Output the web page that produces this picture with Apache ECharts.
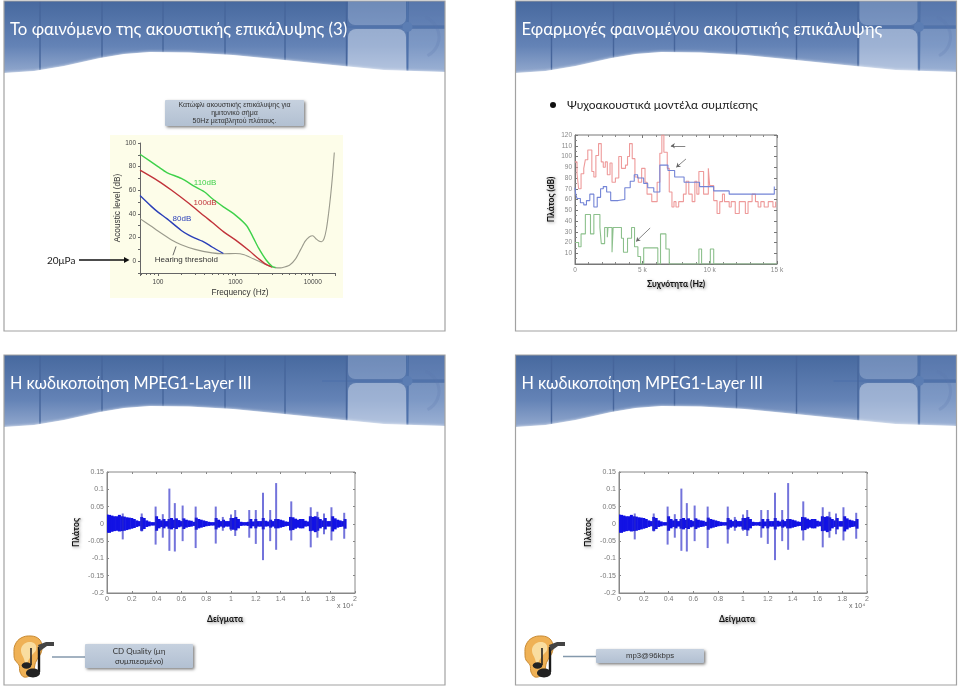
<!DOCTYPE html>
<html><head><meta charset="utf-8">
<style>html,body{margin:0;padding:0;background:#fff}#main{width:960px;height:687px;filter:blur(0.4px)}</style>
<script src="https://cdn.jsdelivr.net/npm/echarts@6/dist/echarts.min.js"></script>
</head><body><div id="main"></div>
<script>
// ---------- chart 1: masking thresholds (Hz, dB) ----------
const thresholdHz=[58.5,80,100,150,200,300,500,700,1000,1300,1700,2300,3000,3500,4000,5000,6000,7000,8000,9000,10000,11000,12000,13000,14000,15000,16000,17000,18000,19000];
const thresholdDb=[36,30,25.5,18,14,10,7,6.3,6.5,5.5,2,-2,-5,-5.7,-5.5,-3.5,2,10,17,20.5,21.5,19,17,16.5,19,27,40,55,72,92];
const mask80Hz=[58.5,80,100,130,200,250,300,400,500,700];
const mask80Db=[55.5,47,41.5,36,26,22,19.5,16,12,6.5];
const mask100Hz=[58.5,100,150,250,400,500,700,1000,1500,2000,2400,3000];
const mask100Db=[77,68,60,49,38,33,25,18,9,2,-2,-5];
const mask110Hz=[58.5,100,130,200,300,400,500,700,1000,1400,1700,2000,2500,3000,3300];
const mask110Db=[90.5,80,75,70,63,58.5,53,46,39,30,20,11,1,-4.5,-5.3];
const freqLabels=[100,1000,10000];

// ---------- chart 2: psychoacoustic model (kHz, dB, step lines) ----------
const redK=[0,.15,.27,.45,.65,.77,.95,1.25,1.4,1.55,1.75,1.95,2.1,2.25,2.4,2.6,2.75,3.0,3.25,3.45,3.75,3.9,4.05,4.25,4.45,4.7,4.95,5.2,5.35,5.7,6.1,6.3,6.45,6.6,6.85,7.0,7.2,7.35,7.5,7.7,8.05,8.25,8.45,8.7,8.9,9.05,9.2,9.55,9.9,10.0,10.3,10.55,10.75,10.95,11.1,11.45,11.6,11.9,12.2,12.65,12.85,13.15,13.4,13.6,13.8,14.05,14.35,14.7,14.9];
const redDb=[95,84,70,84,89,97,106,86,81,101,112,95,90,95,83,94,76,80,100,89,92,100,112,98,81,76,89,76,65,58,76,103,120,104,89,67,53,58,53,58,65,77,65,58,77,65,86,65,89,73,59,47,58,65,58,53,58,47,58,47,58,65,58,53,58,53,58,53,58];
const blueK=[0,.05,.15,.4,.65,.85,1.1,1.4,1.65,1.9,2.1,2.35,2.65,3.2,3.7,4.1,4.4,4.65,5.1,5.4,5.85,6.3,6.9,7.4,8.1,9.25,10.3,11.45,12.55,14.8];
const blueDb=[71,65,61,57,55,59,65,53,62,70,72,67,59,60,71,77,83,80,75,71,67,92,87,81,76,72,68,65,65,72];
const greenK=[0,.27,.45,.77,1.15,1.4,1.85,1.95,2.2,2.4,2.45,2.75,2.83,3.0,3.45,3.6,3.9,4.2,4.27,4.42,4.67,4.87,5.1,6.15,6.35,6.35,6.75,7.0,9.2,9.4,10.05,10.3,15];
const greenDb=[20,16,28,46,28,46,34,19,34,25,34,11,34,34,24,11,24,34,34,16,7,0,15,0,20,28,14,0,14,0,14,0,0];
const ampYLabels=[10,20,30,40,50,60,70,80,90,100,110,120];

// ---------- charts 3, 4: waveform envelope (x 1e4 samples, amplitude) ----------
const waveX=[0,.02,.04,.06,.08,.1,.12,.14,.16,.18,.2,.22,.24,.26,.28,.3,.32,.34,.36,.38,.4,.42,.44,.46,.48,.5,.52,.54,.56,.58,.6,.62,.64,.66,.68,.7,.72,.74,.76,.78,.8,.82,.84,.86,.88,.9,.92,.94,.96,.98,1,1.02,1.04,1.06,1.08,1.1,1.12,1.14,1.16,1.18,1.2,1.22,1.24,1.26,1.28,1.3,1.32,1.34,1.36,1.38,1.4,1.42,1.44,1.46,1.48,1.5,1.52,1.54,1.56,1.58,1.6,1.62,1.64,1.66,1.68,1.7,1.72,1.74,1.76,1.78,1.8,1.82,1.84,1.86,1.88,1.9,1.92];
const waveUp=[.027,.026,.024,.022,.022,.026,.022,.021,.019,.018,.017,.014,.01,.008,.02,.017,.01,.007,.005,.005,.022,.014,.01,.014,.008,.014,.017,.012,.016,.011,.008,.016,.012,.01,.009,.006,.018,.014,.012,.01,.008,.006,.005,.005,.017,.012,.008,.012,.008,.008,.017,.017,.02,.014,.006,.005,.005,.006,.014,.007,.014,.008,.008,.017,.009,.007,.012,.008,.014,.014,.012,.01,.007,.006,.02,.019,.015,.012,.014,.014,.009,.007,.022,.02,.022,.019,.014,.01,.017,.008,.008,.022,.016,.012,.01,.008,.014];
const waveLow=[-.026,-.026,-.023,-.021,-.02,-.022,-.021,-.02,-.018,-.016,-.014,-.012,-.009,-.007,-.02,-.015,-.009,-.007,-.005,-.005,-.02,-.013,-.009,-.013,-.008,-.014,-.016,-.012,-.015,-.01,-.008,-.015,-.011,-.009,-.008,-.006,-.017,-.013,-.011,-.009,-.007,-.006,-.005,-.005,-.016,-.011,-.008,-.011,-.008,-.008,-.016,-.017,-.019,-.013,-.006,-.005,-.005,-.006,-.013,-.007,-.013,-.008,-.008,-.016,-.008,-.007,-.011,-.008,-.013,-.013,-.011,-.009,-.007,-.006,-.019,-.018,-.014,-.011,-.013,-.013,-.008,-.007,-.021,-.02,-.024,-.02,-.013,-.009,-.016,-.008,-.008,-.022,-.016,-.011,-.009,-.008,-.014];
const spikeX=[.127,.28,.392,.45,.503,.547,.61,.715,.877,.934,1.0,1.034,1.147,1.2,1.258,1.316,1.364,1.486,1.643,1.697,1.75,1.81,1.913];
const spikeUp=[.03,.03,.05,.028,.102,.06,.053,.05,.05,.02,.027,.04,.04,.04,.09,.04,.118,.065,.048,.035,.03,.048,.032];
const spikeLow=[-.045,-.022,-.06,-.04,-.078,-.08,-.05,-.07,-.057,-.02,-.02,-.035,-.04,-.058,-.105,-.05,-.075,-.048,-.068,-.04,-.03,-.048,-.043];

// ---------- texts ----------
const slideTitles=['Το φαινόμενο της ακουστικής επικάλυψης (3)','Εφαρμογές φαινομένου ακουστικής επικάλυψης','Η κωδικοποίηση MPEG1-Layer III','Η κωδικοποίηση MPEG1-Layer III'];
const captionLines='Κατώφλι ακουστικής επικάλυψης για\nημιτονικό σήμα\n50Hz μεταβλητού πλάτους.';
const bulletText='Ψυχοακουστικά μοντέλα συμπίεσης';

const FONT='Lato, "Open Sans", "Noto Sans", sans-serif';
const ARIAL='"Liberation Sans", Arial, sans-serif';
const zip=(a,b)=>a.map((v,i)=>[v,b[i]]);
const G=echarts.graphic;

function slideBack(ox,oy,title,tSize){
  const out=[];
  out.push({type:'rect',shape:{x:ox,y:oy,width:441,height:82},style:{fill:new G.LinearGradient(0,0,0,1,[{offset:0,color:'#47699f'},{offset:.55,color:'#6483b6'},{offset:1,color:'#a3b6d6'}])}});
  [36,98,159,221,281].forEach(x=>out.push({type:'line',shape:{x1:ox+x,y1:oy,x2:ox+x,y2:oy+70},style:{stroke:'#46659b',lineWidth:1.4}}));
  out.push({type:'rect',shape:{x:ox+344,y:oy+28,width:58,height:50,r:8},style:{fill:'rgba(215,225,242,.5)'}});
  out.push({type:'rect',shape:{x:ox+344,y:oy,width:58,height:24,r:[0,0,7,7]},style:{fill:'rgba(175,195,226,.38)'}});
  out.push({type:'rect',shape:{x:ox+405,y:oy+28,width:36,height:50},style:{fill:'rgba(175,195,226,.35)'}});
  out.push({type:'rect',shape:{x:ox+405,y:oy,width:36,height:24},style:{fill:'rgba(130,155,205,.28)'}});
  out.push({type:'line',shape:{x1:ox+318,y1:oy+26,x2:ox+441,y2:oy+26},style:{stroke:'#4f72ab',lineWidth:1.6}});
  out.push({type:'line',shape:{x1:ox+403.5,y1:oy,x2:ox+403.5,y2:oy+72},style:{stroke:'#4f72ab',lineWidth:1.6}});
  out.push({type:'line',shape:{x1:ox+342.5,y1:oy,x2:ox+342.5,y2:oy+68},style:{stroke:'#46659b',lineWidth:1.4}});
  out.push({type:'circle',shape:{cx:ox+403.5,cy:oy+26,r:5},style:{fill:'#5b7db3'}});
  out.push({type:'arc',shape:{cx:ox+414,cy:oy+36,r:21,startAngle:-1.2,endAngle:1.1},style:{stroke:'rgba(90,120,175,.22)',lineWidth:3,fill:null}});
  out.push({type:'polygon',shape:{points:[[0,72],[30,70],[60,65],[96,57],[120,53],[146,51],[185,51.5],[229,54],[280,59],[329,64],[380,69],[441,71],[441,85],[0,85]].map(p=>[ox+p[0],oy+p[1]])},style:{fill:'#fff',shadowBlur:3,shadowColor:'rgba(255,255,255,.9)'}});
  out.push({type:'rect',shape:{x:ox,y:oy,width:441,height:330},style:{fill:null,stroke:'#a2a2a2',lineWidth:1.2}});
  out.push({type:'text',x:ox+6,y:oy+29,style:{text:title,fill:'#fff',font:tSize+'px '+FONT,textVerticalAlign:'middle'}});
  return out;
}
function ear(x,y){
  const pts=a=>a.map(p=>[x+p[0],y+p[1]]);
  return [
   {type:'polygon',shape:{points:pts([[3,18],[4,9],[10,2],[20,0],[28,3],[31,10],[30,17],[27,22],[24,28],[23,34],[20,39],[13,41],[9,36],[8,29],[4,24]]),smooth:.4},style:{fill:'#efb155',stroke:'#c88a33',lineWidth:1}},
   {type:'polygon',shape:{points:pts([[10,15],[12,9],[18,6],[24,8],[25,14],[21,19],[17,25],[15,29],[13,23]]),smooth:.4},style:{fill:'#f9dda0'}},
   {type:'line',shape:{x1:x+28,y1:y+11,x2:x+28,y2:y+36},style:{stroke:'#1a1a1a',lineWidth:2.4}},
   {type:'polygon',shape:{points:pts([[27,9],[35,6],[43,6],[43,10],[36,10],[29,15]])},style:{fill:'#444'}},
   {type:'ellipse',shape:{cx:x+22,cy:y+37,rx:7,ry:4.4},style:{fill:'#222'}},
   {type:'line',shape:{x1:x+20,y1:y+12,x2:x+20,y2:y+29},style:{stroke:'#222',lineWidth:1.6}},
   {type:'ellipse',shape:{cx:x+15.5,cy:y+29.5,rx:4.8,ry:3.2},style:{fill:'#222'}}
  ];
}
function labelBox(x,y,w,h,text,size,font,lead){
  return [
   {type:'rect',shape:{x,y,width:w,height:h,r:1},style:{fill:new G.LinearGradient(0,0,0,1,[{offset:0,color:'#c6d1df'},{offset:1,color:'#b2c0d2'}]),shadowBlur:3,shadowOffsetX:1.5,shadowOffsetY:1.5,shadowColor:'rgba(0,0,0,.5)'}},
   {type:'text',x:x+w/2,y:y+h/2,style:{text,fill:'#333',font:size+'px '+font,textAlign:'center',textVerticalAlign:'middle',lineHeight:lead}}
  ];
}
const elements=[]
 .concat(slideBack(4,1,slideTitles[0],16.8),slideBack(515.5,1,slideTitles[1],16.8),slideBack(4,355,slideTitles[2],16.3),slideBack(515.5,355,slideTitles[3],16.3))
 .concat([
  {type:'rect',shape:{x:110,y:135,width:233,height:163},style:{fill:'#fdfde9'}},
  {type:'text',x:47,y:260.5,style:{text:'20μPa',fill:'#222',font:'10px '+FONT,textVerticalAlign:'middle'}},
  {type:'line',shape:{x1:79,y1:260,x2:125,y2:260},style:{stroke:'#111',lineWidth:1.3}},
  {type:'polygon',shape:{points:[[124,257],[129.5,260],[124,263]]},style:{fill:'#111'}},
  {type:'circle',shape:{cx:553,cy:105,r:3},style:{fill:'#111'}},
  {type:'text',x:567,y:105,style:{text:bulletText,fill:'#222',font:'12px '+FONT,textVerticalAlign:'middle'}},
  {type:'text',x:337,y:606,style:{text:'x 10⁴',fill:'#666',font:'7px '+ARIAL,textVerticalAlign:'middle'}},
  {type:'text',x:849,y:606,style:{text:'x 10⁴',fill:'#666',font:'7px '+ARIAL,textVerticalAlign:'middle'}},
  {type:'line',shape:{x1:52,y1:657,x2:85,y2:657},style:{stroke:'#8499ac',lineWidth:1.6}},
  {type:'line',shape:{x1:563,y1:656.5,x2:596,y2:656.5},style:{stroke:'#8499ac',lineWidth:1.6}}
 ],
 labelBox(165,100,139,26,captionLines,7,ARIAL,7.6),
 labelBox(85,644,108,24,'CD Quality (μη\nσυμπιεσμένο)',8,FONT,10),
 labelBox(596,649,108,14,'mp3@96kbps',7.8,ARIAL,9),
 ear(11,636),ear(522,636));

const grids=[
 {left:140,top:143,width:195,height:130,show:true,borderColor:'#666',borderWidth:1,backgroundColor:'transparent'},
 {left:575,top:135,width:202,height:129,show:true,borderColor:'#777',borderWidth:1,backgroundColor:'#fff'},
 {left:107,top:472,width:248,height:121,show:true,borderColor:'#888',borderWidth:1,backgroundColor:'#fff'},
 {left:619,top:472,width:248,height:121,show:true,borderColor:'#888',borderWidth:1,backgroundColor:'#fff'}
];
const ink={fontSize:7,fontFamily:ARIAL};
const boldName={fontFamily:FONT,fontWeight:'bold',fontSize:8.5,color:'#111',textShadowColor:'rgba(0,0,0,.45)',textShadowBlur:3,textShadowOffsetX:1,textShadowOffsetY:1};
const xAxes=[
 {type:'log',gridIndex:0,min:58.5,max:19400,name:'Frequency (Hz)',nameLocation:'middle',nameGap:16,nameTextStyle:{fontFamily:ARIAL,fontSize:8.3,color:'#333',padding:[0,0,0,5]},
  axisLine:{onZero:false,lineStyle:{color:'#666'}},axisTick:{length:3,lineStyle:{color:'#666'}},minorTick:{show:true,splitNumber:9,length:2,lineStyle:{color:'#666'}},splitLine:{show:false},
  axisLabel:{...ink,color:'#444',fontSize:6.5,margin:6,showMinLabel:false,showMaxLabel:false,formatter:v=>freqLabels.includes(Math.round(v))?String(Math.round(v)):''}},
 {type:'value',gridIndex:1,min:0,max:15,interval:5,name:'Συχνότητα (Hz)',nameLocation:'middle',nameGap:16,nameTextStyle:boldName,
  axisLine:{onZero:false,lineStyle:{color:'#777'}},axisTick:{inside:true,length:3,lineStyle:{color:'#777'}},minorTick:{show:true,splitNumber:5,length:2,lineStyle:{color:'#888'}},splitLine:{show:false},
  axisLabel:{...ink,color:'#888',fontSize:6.5,margin:3,formatter:v=>v===0?'0':v+' k'}},
 ...[2,3].map(g=>({type:'value',gridIndex:g,min:0,max:2,interval:.2,name:'Δείγματα',nameLocation:'middle',nameGap:22,nameTextStyle:{...boldName,padding:[0,12,0,0]},
  axisLine:{onZero:false,lineStyle:{color:'#888'}},axisTick:{inside:true,length:2,lineStyle:{color:'#888'}},splitLine:{show:false},
  axisLabel:{...ink,color:'#777',margin:3,formatter:v=>String(+v.toFixed(1))}})),
 {type:'value',gridIndex:1,position:'top',min:0,max:15,interval:5,axisLine:{show:false,onZero:false},axisTick:{inside:true,length:3,lineStyle:{color:'#777'}},minorTick:{show:true,splitNumber:5,length:2,lineStyle:{color:'#888'}},axisLabel:{show:false},splitLine:{show:false}},
 ...[2,3].map(g=>({type:'value',gridIndex:g,position:'top',min:0,max:2,interval:.2,axisLine:{show:false,onZero:false},axisTick:{inside:true,length:2,lineStyle:{color:'#888'}},axisLabel:{show:false},splitLine:{show:false}}))
];
const yAxes=[
 {type:'value',gridIndex:0,min:-10,max:100,interval:10,name:'Acoustic level (dB)',nameLocation:'middle',nameGap:18,nameTextStyle:{fontFamily:ARIAL,fontSize:8.3,color:'#333'},
  axisLine:{onZero:false,lineStyle:{color:'#666'}},axisTick:{length:2,lineStyle:{color:'#666'}},splitLine:{show:false},
  axisLabel:{...ink,color:'#444',fontSize:6.5,margin:4,formatter:v=>(v%20===0)?String(v):''}},
 {type:'value',gridIndex:1,min:0,max:120,interval:10,name:'Πλάτος (dB)',nameLocation:'middle',nameGap:19,nameTextStyle:boldName,
  axisLine:{onZero:false,lineStyle:{color:'#777'}},axisTick:{inside:true,length:3,lineStyle:{color:'#777'}},minorTick:{show:true,splitNumber:2,length:2,lineStyle:{color:'#888'}},splitLine:{show:false},
  axisLabel:{...ink,color:'#888',fontSize:6.5,margin:3,formatter:v=>ampYLabels.includes(v)?String(v):''}},
 ...[2,3].map(g=>({type:'value',gridIndex:g,min:-.2,max:.15,interval:.05,name:'Πλάτος',nameLocation:'middle',nameGap:26,nameTextStyle:boldName,
  axisLine:{onZero:false,lineStyle:{color:'#888'}},axisTick:{inside:true,length:2,lineStyle:{color:'#888'}},splitLine:{show:false},
  axisLabel:{...ink,color:'#777',margin:3,formatter:v=>String(+v.toFixed(2))}})),
 {type:'value',gridIndex:1,position:'right',min:0,max:120,interval:10,axisLine:{show:false,onZero:false},axisTick:{inside:true,length:3,lineStyle:{color:'#777'}},axisLabel:{show:false},splitLine:{show:false}},
 ...[2,3].map(g=>({type:'value',gridIndex:g,position:'right',min:-.2,max:.15,interval:.05,axisLine:{show:false,onZero:false},axisTick:{inside:true,length:2,lineStyle:{color:'#888'}},axisLabel:{show:false},splitLine:{show:false}}))
];
function curve(name,hz,db,color,width,labelAt,labelText){
  const s={name,type:'line',xAxisIndex:0,yAxisIndex:0,data:zip(hz,db),smooth:.25,showSymbol:false,lineStyle:{color,width},silent:true,z:3};
  if(labelText) s.markPoint={silent:true,symbolSize:0,animation:false,data:[{coord:labelAt,label:{show:true,position:'inside',formatter:labelText,color,fontFamily:ARIAL,fontSize:8}}]};
  return s;
}
function stepLine(name,k,db,color){
  return {name,type:'line',step:'end',xAxisIndex:1,yAxisIndex:1,data:zip(k,db),showSymbol:false,lineStyle:{color,width:1.1},silent:true,z:3};
}
function wave(g){
  return [
   {type:'custom',xAxisIndex:g,yAxisIndex:g,clip:true,silent:true,z:3,encode:{x:0,y:[1,2]},data:waveX.map((v,i)=>[v,waveUp[i],waveLow[i]]),
    renderItem:(p,api)=>{const a=api.coord([api.value(0),api.value(1)]),b=api.coord([api.value(0),api.value(2)]);
      return {type:'rect',shape:{x:a[0]-1.5,y:a[1],width:3,height:b[1]-a[1]},style:{fill:'#1212e4'}};}},
   {type:'custom',xAxisIndex:g,yAxisIndex:g,clip:true,silent:true,z:4,encode:{x:0,y:[1,2]},data:spikeX.map((v,i)=>[v,spikeUp[i],spikeLow[i]]),
    renderItem:(p,api)=>{const a=api.coord([api.value(0),api.value(1)]),b=api.coord([api.value(0),api.value(2)]);
      return {type:'rect',shape:{x:a[0]-1,y:a[1],width:2,height:b[1]-a[1]},style:{fill:'rgba(40,40,200,.65)'}};}}
  ];
}
const arrows={type:'line',xAxisIndex:1,yAxisIndex:1,data:[],silent:true,z:5,
  markLine:{silent:true,animation:false,symbol:['none','arrow'],symbolSize:4,lineStyle:{color:'#666',width:.8,type:'solid'},label:{show:false},
   data:[[{coord:[8.19,110]},{coord:[7.12,110]}],[{coord:[8.24,97.7]},{coord:[7.52,90]}],[{coord:[5.58,33.5]},{coord:[4.54,21]}]]}};
const leader={type:'line',xAxisIndex:0,yAxisIndex:0,data:[],silent:true,z:5,
  markLine:{silent:true,animation:false,symbol:'none',lineStyle:{color:'#444',width:.8,type:'solid'},label:{show:false},data:[[{coord:[171,12.5]},{coord:[156,5]}]]},
  markPoint:{silent:true,symbolSize:0,animation:false,data:[{coord:[232,1.5],label:{show:true,position:'inside',formatter:'Hearing threshold',color:'#333',fontFamily:ARIAL,fontSize:8}}]}};

const chart=echarts.init(document.getElementById('main'),null,{renderer:'canvas'});
chart.setOption({
 animation:false,backgroundColor:'#fff',
 graphic:{elements},
 grid:grids,xAxis:xAxes,yAxis:yAxes,
 series:[
  curve('threshold',thresholdHz,thresholdDb,'#9a9a8c',1.1),
  curve('80dB',mask80Hz,mask80Db,'#2a3fb8',1.4,[204,36],'80dB'),
  curve('100dB',mask100Hz,mask100Db,'#c1333a',1.4,[406,49],'100dB'),
  curve('110dB',mask110Hz,mask110Db,'#3ed14a',1.4,[406,66.7],'110dB'),
  leader,
  stepLine('signal',redK,redDb,'#ee9a9a'),
  stepLine('mask',blueK,blueDb,'#7384d6'),
  stepLine('reduced',greenK,greenDb,'#8cc08c'),
  arrows,
  ...wave(2),...wave(3)
 ]
});
</script></body></html>
